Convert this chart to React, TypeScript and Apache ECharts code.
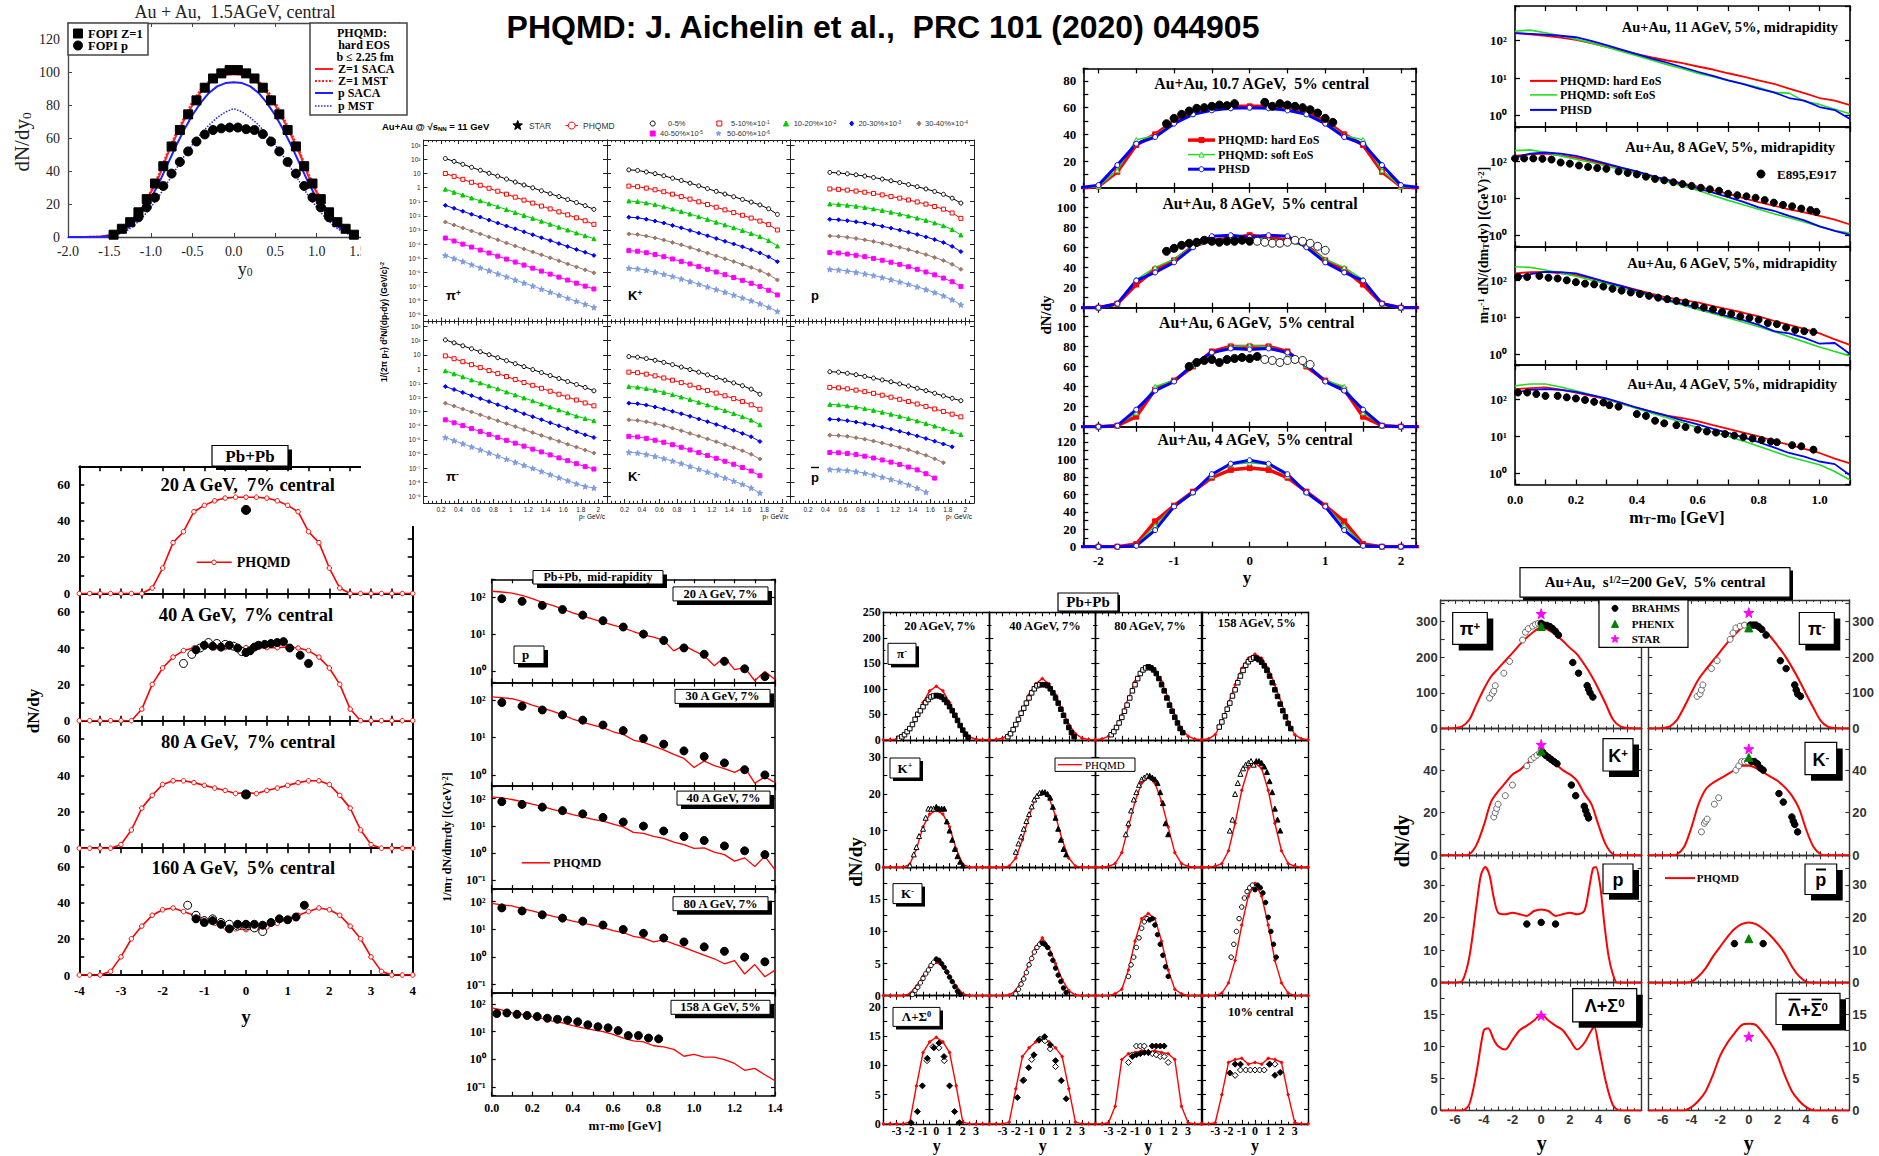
import React, { useEffect, useRef } from 'react';
import * as echarts from 'echarts';

const SERIF = '"Liberation Serif", "Times New Roman", serif';
const SANS = '"Liberation Sans", Arial, sans-serif';
const RED = '#ff0000';
const GREEN = '#22dd22';
const BLUE = '#0000ff';

/* ===== Au+Au 1.5 AGeV central: FOPI vs PHQMD ===== */
const fopiZ1Y0 = [-1.45, -1.35, -1.25, -1.15, -1.05, -0.95, -0.85, -0.75, -0.65, -0.55, -0.45, -0.35, -0.25, -0.15, -0.05, 0.05, 0.15, 0.25, 0.35, 0.45, 0.55, 0.65, 0.75, 0.85, 0.95, 1.05, 1.15, 1.25, 1.35, 1.45];
const fopiZ1 = [1.4, 5, 9, 15, 23, 32.5, 43, 55, 65, 74.5, 83, 90.7, 96.3, 99.4, 101.4, 101.4, 99.4, 96.3, 90.7, 83, 74.5, 65, 55, 43, 32.5, 23, 15, 9, 5, 1.4];
const fopiPY0 = [-1.15, -1.05, -0.95, -0.85, -0.75, -0.65, -0.55, -0.45, -0.35, -0.25, -0.15, -0.05, 0.05, 0.15, 0.25, 0.35, 0.45, 0.55, 0.65, 0.75, 0.85, 0.95, 1.05, 1.15];
const fopiP = [12, 18, 24, 31, 38.5, 45.6, 52, 58, 62.3, 65, 66, 66.5, 66.5, 65.5, 65, 62.5, 58, 52, 45.6, 38.5, 31, 24, 18, 12];
const phqmdY0 = [-2.0, -1.8, -1.6, -1.5, -1.4, -1.3, -1.2, -1.1, -1.0, -0.9, -0.8, -0.7, -0.6, -0.5, -0.4, -0.3, -0.2, -0.1, 0, 0.1, 0.2, 0.3, 0.4, 0.5, 0.6, 0.7, 0.8, 0.9, 1.0, 1.1, 1.2, 1.3, 1.4, 1.5];
const phqmdZ1SACA = [0, 0, 0.3, 1, 2.5, 5.5, 10.5, 18, 27, 37, 50, 61, 71, 80, 88, 93.5, 97, 98.5, 99, 98.5, 97, 93.5, 88, 80, 71, 61, 50, 37, 27, 18, 10.5, 5.5, 2.5, 1];
const phqmdZ1MST = [0, 0, 0.3, 1, 2.5, 5.5, 10.5, 18.5, 28, 38.5, 51.5, 62.5, 72.5, 82, 89.5, 94.5, 97.5, 98.5, 99, 98.5, 97.5, 94.5, 89.5, 82, 72.5, 62.5, 51.5, 38.5, 28, 18.5, 10.5, 5.5, 2.5, 1];
const phqmdPSACA = [0, 0, 0.2, 0.8, 2, 4.5, 9, 15.5, 23.5, 33, 44, 55, 65, 74, 81.5, 87.5, 91.5, 93.5, 94, 93.5, 91.5, 87.5, 81.5, 74, 65, 55, 44, 33, 23.5, 15.5, 9, 4.5, 2, 0.8];
const phqmdPMST = [0, 0, 0.1, 0.5, 1.5, 3.5, 7, 12, 18, 25, 33, 41, 49, 56, 62.5, 68, 72.5, 76, 78, 76, 72.5, 68, 62.5, 56, 49, 41, 33, 25, 18, 12, 7, 3.5, 1.5, 0.5];

/* ===== STAR Au+Au 11 GeV pT spectra (log10 of yield, centralities 0-5% ... 50-60% scaled) ===== */
const starPt = [0.25, 0.35, 0.45, 0.55, 0.65, 0.75, 0.85, 0.95, 1.05, 1.15, 1.25, 1.35, 1.45, 1.55, 1.65, 1.75, 1.85, 1.95];
const starPtProton = [0.45, 0.55, 0.65, 0.75, 0.85, 0.95, 1.05, 1.15, 1.25, 1.35, 1.45, 1.55, 1.65, 1.75, 1.85, 1.95];
const starPiPlusLog10 = [
  [2.05, 1.85, 1.64, 1.43, 1.22, 1.01, 0.81, 0.6, 0.39, 0.18, -0.02, -0.23, -0.44, -0.64, -0.85, -1.06, -1.28, -1.54],
  [0.99, 0.79, 0.58, 0.37, 0.16, -0.05, -0.26, -0.47, -0.68, -0.89, -1.1, -1.31, -1.51, -1.72, -1.93, -2.14, -2.35, -2.6],
  [-0.12, -0.33, -0.53, -0.74, -0.94, -1.15, -1.35, -1.56, -1.77, -1.97, -2.18, -2.38, -2.59, -2.8, -3.0, -3.21, -3.41, -3.62],
  [-1.26, -1.47, -1.68, -1.89, -2.09, -2.3, -2.51, -2.72, -2.92, -3.13, -3.34, -3.55, -3.75, -3.96, -4.17, -4.38, -4.58, -4.8],
  [-2.44, -2.65, -2.86, -3.07, -3.28, -3.49, -3.7, -3.92, -4.13, -4.34, -4.55, -4.76, -4.97, -5.18, -5.4, -5.61, -5.82, -6.03],
  [-3.57, -3.78, -4.0, -4.21, -4.42, -4.63, -4.85, -5.06, -5.27, -5.48, -5.7, -5.91, -6.12, -6.33, -6.54, -6.76, -6.97, -7.17],
  [-4.8, -5.02, -5.23, -5.45, -5.67, -5.88, -6.1, -6.31, -6.53, -6.75, -6.96, -7.18, -7.39, -7.61, -7.82, -8.04, -8.25, -8.47],
];
const starPiMinusLog10 = [
  [2.06, 1.85, 1.64, 1.43, 1.22, 1.01, 0.8, 0.59, 0.38, 0.17, -0.04, -0.25, -0.46, -0.67, -0.88, -1.09, -1.3, -1.54],
  [0.93, 0.73, 0.52, 0.31, 0.1, -0.11, -0.32, -0.53, -0.74, -0.95, -1.15, -1.36, -1.57, -1.78, -1.98, -2.19, -2.4, -2.6],
  [-0.13, -0.34, -0.55, -0.77, -0.98, -1.19, -1.4, -1.62, -1.83, -2.04, -2.25, -2.47, -2.68, -2.89, -3.1, -3.32, -3.5, -3.66],
  [-1.24, -1.45, -1.66, -1.88, -2.09, -2.3, -2.52, -2.73, -2.94, -3.16, -3.37, -3.58, -3.8, -4.01, -4.22, -4.44, -4.65, -4.84],
  [-2.41, -2.62, -2.83, -3.03, -3.24, -3.45, -3.66, -3.86, -4.07, -4.28, -4.49, -4.69, -4.9, -5.11, -5.32, -5.52, -5.73, -5.94],
  [-3.59, -3.8, -4.0, -4.21, -4.42, -4.62, -4.83, -5.04, -5.24, -5.45, -5.66, -5.86, -6.07, -6.28, -6.48, -6.69, -6.9, -7.07],
  [-4.84, -5.06, -5.28, -5.5, -5.71, -5.93, -6.15, -6.37, -6.59, -6.8, -7.02, -7.24, -7.46, -7.68, -7.89, -8.11, -8.3, -8.41],
];
const starKPlusLog10 = [
  [1.25, 1.21, 1.1, 0.98, 0.83, 0.66, 0.5, 0.31, 0.12, -0.08, -0.27, -0.46, -0.65, -0.84, -1.03, -1.23, -1.5, -1.9],
  [0.1, 0.06, -0.04, -0.16, -0.3, -0.47, -0.64, -0.82, -1.01, -1.2, -1.39, -1.58, -1.77, -1.96, -2.16, -2.37, -2.62, -3.0],
  [-0.95, -0.99, -1.09, -1.21, -1.36, -1.52, -1.69, -1.87, -2.06, -2.25, -2.45, -2.64, -2.84, -3.04, -3.25, -3.47, -3.75, -4.13],
  [-2.1, -2.14, -2.24, -2.37, -2.51, -2.68, -2.85, -3.03, -3.22, -3.41, -3.6, -3.8, -3.99, -4.19, -4.4, -4.62, -4.9, -5.24],
  [-3.28, -3.32, -3.43, -3.56, -3.71, -3.88, -4.05, -4.24, -4.43, -4.63, -4.83, -5.03, -5.23, -5.44, -5.65, -5.88, -6.15, -6.53],
  [-4.46, -4.5, -4.61, -4.74, -4.89, -5.05, -5.22, -5.4, -5.59, -5.78, -5.97, -6.16, -6.36, -6.56, -6.77, -6.99, -7.26, -7.59],
  [-5.7, -5.74, -5.85, -5.98, -6.13, -6.29, -6.46, -6.64, -6.83, -7.02, -7.21, -7.4, -7.6, -7.8, -8.0, -8.22, -8.47, -8.76],
];
const starKMinusLog10 = [
  [0.88, 0.84, 0.74, 0.62, 0.47, 0.31, 0.14, -0.04, -0.22, -0.41, -0.6, -0.79, -0.98, -1.18, -1.42, -1.78],
  [-0.22, -0.26, -0.36, -0.48, -0.63, -0.79, -0.96, -1.14, -1.32, -1.51, -1.7, -1.89, -2.09, -2.3, -2.53, -2.84],
  [-1.24, -1.28, -1.38, -1.5, -1.65, -1.81, -1.98, -2.16, -2.35, -2.54, -2.74, -2.94, -3.15, -3.37, -3.61, -3.94],
  [-2.41, -2.45, -2.55, -2.68, -2.83, -2.99, -3.16, -3.34, -3.53, -3.72, -3.92, -4.12, -4.33, -4.55, -4.79, -5.12],
  [-3.59, -3.63, -3.73, -3.86, -4.01, -4.18, -4.36, -4.55, -4.74, -4.94, -5.14, -5.35, -5.56, -5.78, -6.03, -6.36],
  [-4.76, -4.8, -4.9, -5.03, -5.18, -5.35, -5.53, -5.72, -5.91, -6.11, -6.31, -6.52, -6.73, -6.96, -7.21, -7.54],
  [-5.89, -5.93, -6.04, -6.17, -6.33, -6.5, -6.68, -6.88, -7.08, -7.28, -7.49, -7.7, -7.92, -8.15, -8.41, -8.76],
];
const starProtonLog10 = [
  [1.07, 1.03, 0.97, 0.9, 0.81, 0.71, 0.6, 0.48, 0.35, 0.21, 0.06, -0.1, -0.28, -0.48, -0.75, -1.1],
  [-0.1, -0.13, -0.18, -0.25, -0.33, -0.42, -0.52, -0.63, -0.75, -0.88, -1.02, -1.17, -1.34, -1.53, -1.8, -2.18],
  [-1.16, -1.19, -1.25, -1.32, -1.41, -1.51, -1.62, -1.74, -1.87, -2.01, -2.16, -2.32, -2.5, -2.7, -2.97, -3.35],
  [-2.25, -2.28, -2.34, -2.42, -2.51, -2.62, -2.74, -2.87, -3.01, -3.16, -3.32, -3.49, -3.68, -3.89, -4.16, -4.53],
  [-3.42, -3.45, -3.52, -3.6, -3.7, -3.81, -3.94, -4.08, -4.23, -4.39, -4.56, -4.74, -4.94, -5.16, -5.43, -5.78],
  [-4.6, -4.63, -4.7, -4.79, -4.89, -5.01, -5.14, -5.28, -5.43, -5.6, -5.78, -5.97, -6.17, -6.4, -6.66, -7.0],
  [-5.78, -5.82, -5.9, -5.99, -6.1, -6.22, -6.36, -6.51, -6.67, -6.84, -7.02, -7.21, -7.42, -7.65, -7.93, -8.29],
];
const starAntiProtonLog10 = [
  [-0.19, -0.22, -0.3, -0.4, -0.52, -0.64, -0.77, -0.9, -1.05, -1.2, -1.36, -1.53, -1.71, -1.9, -2.07, -2.24],
  [-1.3, -1.33, -1.4, -1.49, -1.6, -1.72, -1.85, -1.99, -2.14, -2.3, -2.47, -2.64, -2.82, -3.0, -3.19, -3.38],
  [-2.5, -2.53, -2.6, -2.69, -2.8, -2.92, -3.05, -3.19, -3.34, -3.5, -3.67, -3.85, -4.03, -4.22, -4.42, -4.63],
  [-3.55, -3.58, -3.65, -3.75, -3.86, -3.98, -4.11, -4.25, -4.4, -4.56, -4.73, -4.91, -5.1, -5.3, -5.5],
  [-4.68, -4.7, -4.76, -4.85, -4.96, -5.09, -5.23, -5.38, -5.54, -5.71, -5.9, -6.1, -6.35, -6.62],
  [-5.9, -5.92, -5.97, -6.05, -6.16, -6.29, -6.43, -6.58, -6.75, -6.93, -7.13, -7.4, -7.71],
  [-7.1, -7.12, -7.17, -7.25, -7.36, -7.49, -7.64, -7.8, -7.98, -8.18, -8.42, -8.7],
];
const starLegend = ['0-5%', '5-10%×10{sup|-1}', '10-20%×10{sup|-2}', '20-30%×10{sup|-3}', '30-40%×10{sup|-4}', '40-50%×10{sup|-5}', '50-60%×10{sup|-6}'];

/* ===== Au+Au AGS dN/dy (10.7, 8, 6, 4 AGeV) ===== */
const agsY = [-2.25, -2, -1.75, -1.5, -1.25, -1, -0.75, -0.5, -0.25, 0, 0.25, 0.5, 0.75, 1, 1.25, 1.5, 1.75, 2, 2.25];
const agsHard = [
  [0, 1, 12, 32, 40, 50, 57, 60, 61, 61, 61, 60, 57, 50, 40, 32, 12, 1, 0],
  [0, 0, 4, 23, 38, 47, 61, 67, 69, 72, 70, 67, 62, 47, 38, 23, 4, 0, 0],
  [0, 0, 1, 10, 37, 46, 60, 75, 80, 80, 80, 75, 60, 46, 37, 10, 1, 0, 0],
  [0, 0, 0, 3, 29, 47, 63, 79, 88, 90, 88, 79, 63, 47, 29, 3, 0, 0, 0],
];
const agsSoft = [
  [0, 1, 13, 36, 39, 49, 55, 59, 60, 60, 60, 59, 55, 49, 39, 36, 13, 1, 0],
  [0, 0, 4, 28, 40, 48, 61, 66, 68, 69, 68, 66, 61, 48, 40, 28, 4, 0, 0],
  [0, 0, 1, 14, 40, 46, 61, 72, 80, 81, 80, 72, 61, 46, 40, 14, 1, 0, 0],
  [0, 0, 0, 2, 24, 47, 62, 81, 94, 96, 94, 81, 62, 47, 24, 2, 0, 0, 0],
];
const agsPhsd = [
  [0, 2, 17, 33, 38, 48, 55, 58, 59.5, 60, 59.5, 58, 55, 48, 38, 33, 17, 2, 0],
  [0, 0, 4, 27, 35, 45, 60, 71, 72, 70, 72, 71, 60, 45, 35, 27, 4, 0, 0],
  [0, 0, 1, 17, 36, 45, 62, 74, 78, 77, 78, 74, 62, 45, 36, 17, 1, 0, 0],
  [0, 0, 0, 1, 19, 46, 62, 83, 95, 99, 95, 83, 62, 46, 19, 1, 0, 0, 0],
];
const ags107DataY = [-1.1, -1, -0.9, -0.8, -0.7, -0.6, -0.5, -0.4, -0.3, -0.2, 0.2, 0.3, 0.4, 0.5, 0.6, 0.7, 0.8, 0.9, 1.0, 1.1];
const ags107Data = [48, 52, 55, 57.5, 59.5, 60, 61, 62, 61.5, 63, 64, 61, 63, 62, 61, 60, 58.5, 56, 52, 49];
const ags8FilledY = [-1.1, -1.0, -0.9, -0.8, -0.7, -0.6, -0.5, -0.4, -0.3, -0.2, -0.1, 0.0];
const ags8Filled = [56, 59, 62, 64, 65, 67, 66, 65, 66, 66, 67, 66];
const ags8OpenY = [0.1, 0.2, 0.3, 0.4, 0.5, 0.6, 0.7, 0.8, 0.9, 1.0];
const ags8Open = [66, 65, 64, 64, 65, 67, 66, 64, 61, 57];
const ags6FilledY = [-0.8, -0.7, -0.6, -0.5, -0.4, -0.3, -0.2, -0.1, 0, 0.1];
const ags6Filled = [60, 64, 66, 67, 64, 67, 68, 69, 68, 70];
const ags6OpenY = [0.2, 0.3, 0.4, 0.5, 0.6, 0.7, 0.8];
const ags6Open = [67, 66, 64, 66, 67, 66, 62];

/* ===== Au+Au AGS mT spectra (log10) ===== */
const mtX = [0, 0.05, 0.1, 0.15, 0.2, 0.25, 0.3, 0.35, 0.4, 0.45, 0.5, 0.55, 0.6, 0.65, 0.7, 0.75, 0.8, 0.85, 0.9, 0.95, 1.0, 1.05, 1.1];
const mtHardLog10 = [
  [2.2, 2.17, 2.13, 2.08, 2.02, 1.93, 1.83, 1.74, 1.64, 1.55, 1.47, 1.4, 1.31, 1.23, 1.13, 1.04, 0.94, 0.85, 0.72, 0.6, 0.47, 0.4, 0.28],
  [2.14, 2.18, 2.2, 2.15, 2.09, 2.0, 1.9, 1.79, 1.68, 1.58, 1.49, 1.4, 1.31, 1.21, 1.12, 1.0, 0.89, 0.8, 0.7, 0.62, 0.52, 0.42, 0.29],
  [2.19, 2.22, 2.23, 2.19, 2.14, 2.05, 1.95, 1.85, 1.74, 1.63, 1.53, 1.46, 1.4, 1.3, 1.21, 1.12, 1.02, 0.9, 0.79, 0.68, 0.56, 0.4, 0.25],
  [2.27, 2.3, 2.32, 2.26, 2.18, 2.09, 2.0, 1.88, 1.77, 1.66, 1.56, 1.49, 1.41, 1.3, 1.2, 1.1, 1.0, 0.88, 0.77, 0.66, 0.55, 0.4, 0.27],
];
const mtSoftLog10 = [
  [2.25, 2.28, 2.21, 2.13, 2.04, 1.94, 1.83, 1.71, 1.6, 1.48, 1.36, 1.25, 1.13, 1.04, 0.94, 0.85, 0.75, 0.62, 0.6, 0.38, 0.3, 0.17, 0.05],
  [2.28, 2.3, 2.23, 2.14, 2.05, 1.96, 1.86, 1.77, 1.68, 1.56, 1.44, 1.33, 1.21, 1.07, 0.94, 0.82, 0.7, 0.58, 0.47, 0.36, 0.24, 0.12, 0.06],
  [2.37, 2.35, 2.28, 2.2, 2.11, 2.01, 1.91, 1.79, 1.67, 1.56, 1.44, 1.33, 1.21, 1.1, 0.98, 0.86, 0.74, 0.61, 0.47, 0.33, 0.19, 0.07, -0.05],
  [2.36, 2.41, 2.41, 2.33, 2.23, 2.12, 2.0, 1.88, 1.75, 1.62, 1.5, 1.37, 1.23, 1.11, 1.0, 0.87, 0.73, 0.59, 0.45, 0.34, 0.23, 0.05, -0.18],
];
const mtPhsdLog10 = [
  [2.2, 2.18, 2.16, 2.13, 2.09, 1.99, 1.88, 1.76, 1.64, 1.52, 1.41, 1.29, 1.17, 1.06, 0.94, 0.84, 0.72, 0.62, 0.47, 0.4, 0.23, 0.15, -0.09],
  [2.09, 2.2, 2.23, 2.2, 2.14, 2.04, 1.93, 1.82, 1.72, 1.6, 1.49, 1.38, 1.26, 1.15, 1.03, 0.9, 0.75, 0.66, 0.52, 0.4, 0.24, 0.12, 0.01],
  [2.07, 2.17, 2.23, 2.22, 2.19, 2.07, 1.95, 1.84, 1.72, 1.59, 1.46, 1.36, 1.26, 1.14, 1.02, 0.92, 0.79, 0.62, 0.56, 0.44, 0.28, 0.3, 0.0],
  [2.18, 2.25, 2.27, 2.25, 2.2, 2.11, 2.02, 1.9, 1.77, 1.66, 1.55, 1.43, 1.32, 1.2, 1.09, 0.97, 0.84, 0.7, 0.55, 0.45, 0.32, 0.25, -0.05],
];
const e895X8 = [0, 0.03, 0.06, 0.09, 0.12, 0.15, 0.18, 0.21, 0.24, 0.27, 0.3, 0.34, 0.37, 0.4, 0.43, 0.46, 0.49, 0.52, 0.55, 0.58, 0.61, 0.64, 0.67, 0.7, 0.73, 0.76, 0.79, 0.82, 0.85, 0.88, 0.91, 0.94, 0.97, 0.99];
const e895Log10_8 = [2.07, 2.07, 2.07, 2.06, 2.04, 1.96, 1.93, 1.88, 1.84, 1.81, 1.79, 1.72, 1.68, 1.64, 1.58, 1.52, 1.48, 1.43, 1.38, 1.33, 1.28, 1.24, 1.2, 1.12, 1.08, 1.05, 1.01, 0.95, 0.88, 0.82, 0.78, 0.72, 0.68, 0.63];
const e895X6 = [0.01, 0.04, 0.08, 0.11, 0.14, 0.17, 0.2, 0.23, 0.26, 0.29, 0.32, 0.35, 0.38, 0.41, 0.44, 0.47, 0.5, 0.53, 0.56, 0.59, 0.62, 0.65, 0.68, 0.71, 0.74, 0.77, 0.8, 0.83, 0.86, 0.89, 0.92, 0.95, 0.98];
const e895Log10_6 = [2.09, 2.09, 2.12, 2.07, 2.05, 2.0, 1.95, 1.91, 1.89, 1.83, 1.77, 1.72, 1.67, 1.63, 1.58, 1.53, 1.49, 1.44, 1.4, 1.32, 1.26, 1.21, 1.14, 1.09, 1.02, 0.98, 0.93, 0.84, 0.81, 0.72, 0.65, 0.62, 0.6];
const e895X4 = [0.01, 0.04, 0.07, 0.1, 0.14, 0.17, 0.2, 0.23, 0.26, 0.29, 0.31, 0.34, 0.4, 0.43, 0.46, 0.49, 0.53, 0.56, 0.6, 0.63, 0.66, 0.69, 0.72, 0.75, 0.78, 0.81, 0.84, 0.86, 0.91, 0.94, 0.98];
const e895Log10_4 = [2.18, 2.18, 2.14, 2.09, 2.09, 2.05, 2.02, 1.98, 1.93, 1.91, 1.84, 1.8, 1.6, 1.55, 1.42, 1.35, 1.3, 1.25, 1.18, 1.13, 1.1, 1.06, 1.02, 0.98, 0.94, 0.9, 0.86, 0.84, 0.76, 0.73, 0.64];

/* ===== Pb+Pb SPS dN/dy (20, 40, 80, 160 AGeV) ===== */
const spsY = [-4, -3.75, -3.5, -3.25, -3, -2.75, -2.5, -2.25, -2, -1.75, -1.5, -1.25, -1, -0.75, -0.5, -0.25, 0, 0.25, 0.5, 0.75, 1, 1.25, 1.5, 1.75, 2, 2.25, 2.5, 2.75, 3, 3.25, 3.5, 3.75, 4];
const spsPhqmd = [
  [0, 0, 0, 0, 0, 0, 0, 3, 14, 28, 34, 45, 48.5, 51, 52.5, 53, 53, 53, 52.5, 51, 48.5, 45, 34, 28, 14, 3, 0, 0, 0, 0, 0, 0, 0],
  [0, 0, 0, 0, 0, 0, 6.4, 20, 29, 35, 38.6, 40, 40.6, 40.2, 40.2, 40.2, 40.2, 40.2, 40.2, 40.2, 40.6, 40, 38.6, 35, 29, 20, 6.4, 0, 0, 0, 0, 0, 0],
  [0, 0, 0, 0, 2, 10, 22, 29, 35, 37, 37, 36, 34.5, 33, 31.7, 30, 30.5, 30, 31.7, 33, 34.5, 36, 37, 37, 35, 29, 22, 10, 2, 0, 0, 0, 0],
  [0, 0, 0, 2, 10, 20, 27, 33, 36, 37, 35, 33, 31, 28.5, 26.5, 25.5, 25, 25.5, 26.5, 28.5, 31, 33, 35, 37, 36, 33, 27, 20, 10, 2, 0, 0, 0],
];
const na49P20Y = [0];
const na49P20 = [46];
const na49P40OpenY = [-1.5, -1.3, -1.1, -0.9, -0.7, -0.5, -0.3, -0.1];
const na49P40Open = [31.5, 36.5, 40, 43, 42.5, 42, 41, 38];
const na49P40FilledY = [-1.2, -1.0, -0.8, -0.6, -0.4, -0.2, 0, 0.1, 0.2, 0.3, 0.45, 0.6, 0.75, 0.9, 1.05, 1.3, 1.5];
const na49P40Filled = [39, 41.5, 41, 40.5, 41.5, 40, 37.5, 38.5, 40.5, 41.5, 42, 42.5, 43, 43.5, 40, 36, 31.5];
const na49P80Y = [0];
const na49P80 = [29.5];
const na49P160OpenY = [-1.4, -1.2, -1.0, -0.8, -0.6, -0.4, -0.2, 0, 0.2, 0.4];
const na49P160Open = [38.5, 33, 30, 31, 29, 28, 27, 27, 26, 24];
const na49P160FilledY = [-1.2, -1.0, -0.8, -0.6, -0.4, -0.2, 0, 0.2, 0.4, 0.6, 0.8, 1.0, 1.2, 1.4];
const na49P160Filled = [31, 29, 30, 28, 25.5, 28, 28, 28, 27.5, 29, 31, 30.5, 32, 38.5];

/* ===== Pb+Pb mid-rapidity proton mT spectra (log10) ===== */
const spsMtX = [0, 0.05, 0.1, 0.15, 0.2, 0.25, 0.3, 0.35, 0.4, 0.45, 0.5, 0.55, 0.6, 0.65, 0.7, 0.75, 0.8, 0.85, 0.9, 0.95, 1.0, 1.05, 1.1, 1.15, 1.2, 1.25, 1.3, 1.35, 1.4];
const spsMtPhqmdLog10 = [
  [2.15, 2.13, 2.1, 2.04, 1.95, 1.85, 1.77, 1.68, 1.57, 1.49, 1.4, 1.32, 1.24, 1.17, 1.07, 0.98, 0.92, 0.83, 0.55, 0.7, 0.55, 0.42, 0.15, 0.38, 0.05, 0.1, -0.25, 0.0, -0.22],
  [2.08, 2.06, 2.03, 1.96, 1.86, 1.78, 1.7, 1.6, 1.49, 1.41, 1.33, 1.26, 1.15, 1.08, 0.93, 0.87, 0.77, 0.67, 0.55, 0.44, 0.2, 0.37, 0.25, 0.17, 0.07, 0.2, -0.22, -0.05, -0.2],
  [2.07, 2.03, 1.97, 1.89, 1.8, 1.72, 1.61, 1.51, 1.41, 1.33, 1.24, 1.17, 1.06, 0.96, 0.76, 0.72, 0.61, 0.54, 0.4, 0.31, 0.17, 0.19, 0.03, -0.06, -0.3, -0.18, -0.5, -0.12, -0.62],
  [1.93, 1.88, 1.84, 1.74, 1.66, 1.56, 1.47, 1.39, 1.29, 1.22, 1.15, 1.06, 0.95, 0.88, 0.74, 0.68, 0.54, 0.61, 0.47, 0.34, 0.2, 0.06, -0.07, -0.25, -0.14, -0.62, -0.28, -0.72, -0.48],
  [1.86, 1.79, 1.68, 1.63, 1.55, 1.48, 1.38, 1.32, 1.22, 1.14, 1.07, 1.0, 0.9, 0.77, 0.67, 0.63, 0.49, 0.45, 0.36, 0.11, 0.18, 0.08, 0.08, -0.01, -0.15, -0.4, -0.33, -0.56, -0.78],
];
const na49MtX = [0.05, 0.15, 0.25, 0.35, 0.45, 0.55, 0.65, 0.75, 0.85, 0.95, 1.05, 1.15, 1.25, 1.35];
const na49MtX158 = [0.025, 0.075, 0.125, 0.175, 0.225, 0.275, 0.325, 0.375, 0.425, 0.475, 0.525, 0.575, 0.625, 0.675, 0.725, 0.775, 0.825];
const na49MtLog10 = [
  [1.95, 1.88, 1.77, 1.66, 1.51, 1.36, 1.19, 1.0, 0.83, 0.63, 0.46, 0.27, 0.07, -0.14],
  [1.93, 1.83, 1.73, 1.6, 1.46, 1.33, 1.18, 0.97, 0.82, 0.64, 0.49, 0.32, 0.14, 0.0],
  [1.89, 1.79, 1.69, 1.56, 1.44, 1.31, 1.14, 0.99, 0.81, 0.61, 0.46, 0.26, 0.08, -0.06],
  [1.77, 1.66, 1.52, 1.4, 1.29, 1.15, 0.99, 0.85, 0.68, 0.54, 0.36, 0.2, -0.01, -0.18],
  [1.66, 1.68, 1.63, 1.59, 1.55, 1.49, 1.45, 1.42, 1.36, 1.25, 1.18, 1.14, 1.04, 0.86, 0.86, 0.77, 0.74],
];

/* ===== Pb+Pb grid: pi-, K+, K-, Lambda at 20/40/80/158 AGeV ===== */
const gridY = [-4, -3.5, -3, -2.5, -2, -1.5, -1, -0.5, 0, 0.5, 1, 1.5, 2, 2.5, 3, 3.5, 4];
const gridPiMinus = [
  [0, 0, 1, 6, 20, 45, 73, 96, 105, 96, 73, 45, 20, 6, 1, 0, 0],
  [0, 0.5, 3, 12, 30, 58, 88, 110, 120, 110, 88, 58, 30, 12, 3, 0.5, 0],
  [0, 1.5, 7, 22, 48, 82, 114, 137, 145, 137, 114, 82, 48, 22, 7, 1.5, 0],
  [0, 2, 10, 35, 72, 108, 140, 160, 168, 160, 140, 108, 72, 35, 10, 2, 0],
];
const gridKPlus = [
  [0, 0, 0, 0, 0.8, 5, 11, 14.5, 15.5, 14.5, 11, 5, 0.8, 0, 0, 0, 0],
  [0, 0, 0, 0.3, 2.5, 7.5, 14, 19, 20.5, 19, 14, 7.5, 2.5, 0.3, 0, 0, 0],
  [0, 0, 0.2, 1, 4, 11, 18, 23, 24.5, 23, 18, 11, 4, 1, 0.2, 0, 0],
  [0, 0, 0.3, 1, 4.5, 12, 21, 27, 28.5, 27, 21, 12, 4.5, 1, 0.3, 0, 0],
];
const gridKMinus = [
  [0, 0, 0, 0, 0.3, 1.5, 3, 4.5, 5.2, 4.5, 3, 1.5, 0.3, 0, 0, 0, 0],
  [0, 0, 0, 0.1, 0.8, 2.5, 5, 7.5, 9, 7.5, 5, 2.5, 0.8, 0.1, 0, 0, 0],
  [0, 0, 0, 0.3, 1, 4, 8.5, 12, 12.8, 12, 8.5, 4, 1, 0.3, 0, 0, 0],
  [0, 0, 0, 0.4, 2, 5.5, 11, 15.5, 17.5, 15.5, 11, 5.5, 2, 0.4, 0, 0, 0],
];
const gridLambda = [
  [0, 0, 0, 0, 0.3, 6.5, 12.2, 14, 14.8, 14, 12.2, 6.5, 0.3, 0, 0, 0, 0],
  [0, 0, 0, 0.3, 6, 11.5, 13, 14, 14.5, 14, 13, 11.5, 6, 0.3, 0, 0, 0],
  [0, 0, 0.2, 3, 11, 12, 12.2, 12.5, 12.3, 12.5, 12.2, 12, 11, 3, 0.2, 0, 0],
  [0, 0, 0.2, 5, 10.5, 11, 11.2, 10.2, 10.5, 10.2, 11.2, 11, 10.5, 5, 0.2, 0, 0],
];
const na49PiMinusY = [
  [-2.8, -2.6, -2.4, -2.2, -2.0, -1.8, -1.6, -1.4, -1.2, -1.0, -0.8, -0.6, -0.4, -0.2, 0, 0.2, 0.4, 0.6, 0.8, 1.0, 1.2, 1.4, 1.6, 1.8, 2.0, 2.2, 2.4],
  [-2.6, -2.4, -2.2, -2.0, -1.8, -1.6, -1.4, -1.2, -1.0, -0.8, -0.6, -0.4, -0.2, 0, 0.2, 0.4, 0.6, 0.8, 1.0, 1.2, 1.4, 1.6, 1.8, 2.0, 2.2, 2.4],
  [-2.8, -2.6, -2.4, -2.2, -2.0, -1.8, -1.6, -1.4, -1.2, -1.0, -0.8, -0.6, -0.4, -0.2, 0, 0.2, 0.4, 0.6, 0.8, 1.0, 1.2, 1.4, 1.6, 1.8, 2.0, 2.2, 2.4, 2.6],
  [-2.7, -2.5, -2.3, -2.1, -1.9, -1.7, -1.5, -1.3, -1.1, -0.9, -0.7, -0.5, -0.3, -0.1, 0.1, 0.3, 0.5, 0.7, 0.9, 1.1, 1.3, 1.5, 1.7, 1.9, 2.1, 2.3, 2.5, 2.7],
];
const na49PiMinus = [
  [3, 6, 10, 16, 22, 30, 40, 50, 57, 65, 73, 79, 84, 86, 87, 86, 84, 79, 73, 65, 57, 48, 38, 28, 19, 11, 5],
  [6, 12, 20, 30, 40, 52, 62, 72, 82, 92, 100, 106, 108, 108, 108, 106, 100, 92, 82, 72, 60, 48, 36, 24, 14, 6],
  [10, 16, 24, 33, 44, 56, 68, 82, 96, 108, 120, 130, 137, 141, 143, 141, 137, 130, 120, 108, 96, 82, 68, 56, 44, 33, 22, 14],
  [25, 35, 47, 60, 72, 86, 98, 112, 125, 136, 146, 153, 158, 161, 160, 157, 152, 145, 136, 125, 112, 98, 85, 70, 57, 45, 32, 22],
];
const na49KPlusY = [
  [-2.0, -1.7, -1.5, -1.3, -1.0, -0.8, -0.6, -0.4, -0.2, 0, 0.2, 0.4, 0.6, 0.8, 1.0, 1.2, 1.4, 1.6, 1.8, 2.0],
  [-2.0, -1.8, -1.6, -1.4, -1.2, -1.0, -0.8, -0.6, -0.4, -0.2, 0, 0.2, 0.4, 0.6, 0.8, 1.0, 1.2, 1.4, 1.6, 1.8],
  [-1.7, -1.5, -1.3, -1.1, -0.9, -0.7, -0.5, -0.3, -0.1, 0.1, 0.3, 0.5, 0.7, 0.9, 1.1, 1.3, 1.5],
  [-1.9, -1.7, -1.5, -1.3, -1.1, -0.9, -0.7, -0.5, -0.3, -0.1, 0.1, 0.3, 0.5, 0.7, 0.9, 1.1, 1.3, 1.5, 1.7, 1.9],
];
const na49KPlus = [
  [0.5, 3.5, 5.5, 8.5, 10.5, 13.5, 16, 16, 16, 16.5, 16, 16, 16, 12.5, 10, 7.5, 5, 3, 1.5, 0.5],
  [4.2, 6.5, 8.4, 10.5, 12.6, 14.5, 16.6, 18.5, 19.5, 20.3, 20.5, 20.5, 20, 19, 16.5, 13.5, 10.5, 7.5, 5, 3.5],
  [9, 12, 15.5, 18.5, 20.5, 22.5, 24, 24.5, 25, 25, 24.5, 24, 23, 20.5, 17.5, 12, 9],
  [10, 13, 20, 23, 25.5, 27, 28, 28.5, 29, 28, 29, 29, 28.5, 27.5, 26, 23.5, 20.5, 16, 13, 10],
];
const na49KMinusY = [
  [-1.8, -1.6, -1.4, -1.2, -1.0, -0.8, -0.6, -0.4, -0.2, 0, 0.2, 0.4, 0.6, 0.8, 1.0, 1.2, 1.4, 1.6, 1.8],
  [-2.0, -1.8, -1.6, -1.4, -1.2, -1.0, -0.8, -0.6, -0.4, -0.2, 0, 0.2, 0.4, 0.6, 0.8, 1.0, 1.2, 1.4, 1.6, 1.8],
  [-1.5, -1.3, -1.1, -0.9, -0.7, -0.5, -0.3, -0.1, 0.1, 0.3, 0.5, 0.7, 0.9, 1.1, 1.3, 1.5],
  [-1.8, -1.6, -1.4, -1.2, -1.0, -0.8, -0.6, -0.4, -0.2, 0, 0.2, 0.4, 0.6, 0.8, 1.0, 1.2, 1.4, 1.6],
];
const na49KMinus = [
  [0.2, 0.8, 1.3, 2, 2.7, 3.4, 4, 4.7, 5.2, 5.7, 5.5, 5, 4.4, 3.7, 2.9, 2.2, 1.4, 0.7, 0.2],
  [0.3, 1, 1.8, 2.6, 3.6, 4.8, 5.8, 6.8, 7.5, 8, 8.2, 8, 7.5, 6.5, 5.5, 4.3, 3.2, 2.2, 1.2, 0.5],
  [3, 4.8, 6, 7.5, 9, 10.5, 11.5, 12, 11.8, 12, 11, 9.5, 8, 6.3, 4.5, 3],
  [6, 8, 10, 12, 13.8, 15.2, 16.2, 16.8, 17.2, 16.5, 17.2, 16.8, 16, 14.5, 12.2, 10, 8, 6],
];
const na49LambdaFilledY = [
  [-1.9, -1.43, -1.05, -0.68, -0.18, 0.2, 0.58, 1.0, 1.38, 1.75],
  [-1.88, -1.45, -1.03, -0.63, -0.25, 0.18, 0.6, 1.0, 1.43, 1.8],
  [-1.2, -0.9, -0.6, -0.3, 0, 0.3, 0.6, 0.9, 1.2],
  [-1.9, -1.5, -1.1, 1.1, 1.5, 1.9],
];
const na49LambdaFilled = [
  [0.2, 2.1, 6.5, 11.2, 13, 13.8, 11.5, 6.5, 2.1, 0.2],
  [4.5, 7.4, 9.6, 11.8, 14.3, 14.9, 13.5, 10.8, 7.4, 4.3],
  [11.5, 11.8, 12, 12.2, 12.2, 13.3, 13.3, 13.3, 13.3],
  [8.7, 10.2, 10.2, 10.2, 8.3, 8.8],
];
const na49LambdaOpenY = [
  [-0.7, -0.25, 0.2, 0.6],
  [-1.4, -0.8, -0.2, 0.2, 0.6, 1.0],
  [-1.5, -1.2, -0.9, -0.6, -0.3, 0, 0.3, 0.6, 0.9, 1.2, 1.5],
  [-1.5, -1.1, -0.7, -0.35, 0, 0.35, 0.7, 1.1, 1.5],
];
const na49LambdaOpen = [
  [10.8, 13.2, 13, 10.8],
  [7.5, 11, 14.5, 14.2, 12.8, 9.8],
  [10.5, 11.8, 13.3, 13.3, 13.3, 12.2, 12, 11.8, 11.5, 11.5, 10.5],
  [8.3, 9.2, 9.2, 9.2, 9.2, 9.2, 9.2, 10.2, 10.2],
];

/* ===== Au+Au 200 GeV ===== */
const rhicY = [-7, -6.5, -6, -5.5, -5, -4.5, -4, -3.5, -3, -2.5, -2, -1.5, -1, -0.5, 0, 0.5, 1, 1.5, 2, 2.5, 3, 3.5, 4, 4.5, 5, 5.5, 6, 6.5, 7];
const rhicPiPlus = [0, 0, 1, 6, 25, 68, 110, 145, 168, 190, 212, 235, 255, 272, 283, 276, 263, 246, 226, 208, 180, 148, 110, 68, 25, 6, 1, 0, 0];
const rhicPiMinus = [0, 0, 1, 6, 24, 60, 100, 138, 165, 190, 215, 240, 262, 282, 292, 290, 278, 258, 232, 205, 172, 136, 96, 58, 22, 5, 1, 0, 0];
const rhicKPlus = [0, 0, 0, 0, 0.5, 5, 14, 25, 30, 34, 38, 40, 43, 46, 49, 46, 43, 40, 38, 35, 29, 24, 14, 5, 0.5, 0, 0, 0, 0];
const rhicKMinus = [0, 0, 0, 0, 0.5, 4, 13, 24, 31, 34, 36, 38, 40, 42, 42, 41, 39, 37, 35, 32, 28, 22, 12, 4, 0.5, 0, 0, 0, 0];
const rhicProtonY = [-7, -6, -5.5, -5, -4.5, -4.2, -3.9, -3.6, -3.3, -3, -2.5, -2, -1.5, -1, -0.5, 0, 0.5, 1, 1.5, 2, 2.5, 3, 3.3, 3.6, 3.8, 4.1, 4.4, 4.7, 5, 5.3, 6, 7];
const rhicProton = [0, 0, 0.5, 8, 24, 33, 35.5, 33, 26, 21.5, 21, 21.5, 21, 20.5, 22, 22.5, 22, 20.5, 21, 21.5, 21, 22, 28, 35, 35.5, 30, 18, 8, 2.5, 0, 0, 0];
const rhicAntiProton = [0, 0, 0, 0, 0, 0, 0.3, 2, 4.5, 8, 11, 14, 16.5, 18, 18.5, 18, 16.5, 14.5, 12, 9, 5, 2, 0.3, 0, 0, 0, 0, 0, 0];
const rhicLambdaY = [-7, -5.5, -5, -4.5, -4, -3.7, -3.3, -3, -2.5, -2, -1.5, -1, -0.5, 0, 0.5, 1, 1.5, 2, 2.5, 3, 3.5, 3.7, 4, 4.5, 5, 5.5, 7];
const rhicLambda = [0, 0, 1, 6, 12.5, 12.8, 11, 10, 9.5, 11, 12.5, 13.2, 14, 15, 14, 13.2, 12.5, 11, 9.5, 10.5, 12.5, 13, 10, 4.5, 0.8, 0, 0];
const rhicAntiLambda = [0, 0, 0, 0, 0, 0, 0.5, 1.5, 3, 5.5, 8.5, 10.5, 12, 13.3, 13.5, 13.3, 12, 10.5, 8.5, 5.5, 3, 1.5, 0.5, 0, 0, 0, 0, 0, 0];
const brahmsPiPlusY = [0.0, 0.2, 0.4, 0.6, 0.8, 1.0, 1.2, 2.2, 2.6, 3.2, 3.3, 3.4, 3.6];
const brahmsPiPlus = [295, 290, 289, 286, 280, 272, 262, 185, 155, 120, 110, 100, 88];
const brahmsPiPlusReflY = [-3.6, -3.4, -3.3, -3.2, -2.6, -2.2, -1.3, -1.1, -0.9, -0.6, -0.4, -0.2];
const brahmsPiPlusRefl = [85, 98, 105, 120, 155, 188, 248, 270, 280, 287, 292, 295];
const brahmsPiMinusY = [0.1, 0.3, 0.5, 0.7, 0.9, 1.2, 2.2, 2.6, 3.2, 3.3, 3.4, 3.6];
const brahmsPiMinus = [290, 290, 290, 285, 278, 262, 190, 168, 122, 108, 97, 90];
const brahmsPiMinusReflY = [-3.6, -3.4, -3.3, -3.2, -2.6, -2.2, -1.3, -1.1, -0.9, -0.6, -0.3];
const brahmsPiMinusRefl = [90, 97, 108, 122, 168, 190, 250, 268, 282, 287, 290];
const brahmsKPlusY = [0.1, 0.3, 0.5, 0.7, 0.9, 1.1, 2.1, 2.4, 3.0, 3.1, 3.2, 3.3];
const brahmsKPlus = [48.5, 47, 46, 45, 44, 43, 33, 28, 23, 21, 19, 17.5];
const brahmsKPlusReflY = [-3.3, -3.2, -3.1, -3.0, -2.5, -2.0, -1.0, -0.7, -0.5, -0.3, -0.1];
const brahmsKPlusRefl = [18, 20, 22, 24, 28, 33, 42, 45, 46, 47, 48];
const brahmsKMinusY = [0.2, 0.4, 0.6, 0.8, 1.0, 2.1, 2.4, 3.0, 3.1, 3.2, 3.4];
const brahmsKMinus = [44, 44, 43, 41, 40, 29, 25, 18, 16, 14.5, 11];
const brahmsKMinusReflY = [-3.3, -3.1, -3.0, -2.9, -2.4, -2.1, -0.9, -0.7, -0.5, -0.3, -0.1];
const brahmsKMinusRefl = [11, 15, 16, 17, 24, 27, 40, 42, 44, 44, 44];
const brahmsProtonY = [-1, 0, 1];
const brahmsProton = [18, 18.5, 18];
const brahmsAntiProtonY = [-1, 1];
const brahmsAntiProton = [12, 12];
const phenixY = [0];
const phenixPiPlus = [286];
const phenixPiMinus = [282];
const phenixKPlus = [49];
const phenixKMinus = [46];
const phenixAntiProton = [13.5];
const starRhicPiPlus = [322];
const starRhicPiMinus = [325];
const starRhicKPlus = [52];
const starRhicKMinus = [50];
const starRhicLambda = [14.8];
const starRhicAntiLambda = [11.5];

const STAR_PATH = 'path://M50,0L61,35L98,35L68,57L79,91L50,70L21,91L32,57L2,35L39,35Z';

const SUP: any = { '-': '⁻', '+': '⁺', '0': '⁰', '1': '¹', '2': '²', '3': '³', '4': '⁴', '5': '⁵', '6': '⁶', '7': '⁷', '8': '⁸', '9': '⁹' };
const sup = (s: string) => s.split('').map((c) => SUP[c] || c).join('');
const fint = (v: number) => String(Math.round(v));
const fx1 = (v: number) => (Math.round(v * 10) / 10).toFixed(1);
const fRoot = (v: number) => String(Math.round(v * 10) / 10);
const fLogRoot = (v: number) => {
  const k = Math.round(v);
  if (k === 0) return '1';
  if (k === 1) return '10';
  return '10' + sup(String(k));
};
const fLogOrigin = (v: number) => '10' + sup(String(Math.round(v)));

function buildOption() {
  const grids: any[] = [];
  const xAxes: any[] = [];
  const yAxes: any[] = [];
  const series: any[] = [];
  const G: any[] = [];

  const near = (v: number, s: number) => Math.abs(v / s - Math.round(v / s)) < 1e-6;

  function mkAxis(gi: number, a: any, pos: string, showLab: boolean, p: any, margin: number) {
    const col = p.color || '#000';
    const o: any = {
      type: 'value', gridIndex: gi, position: pos, min: a.min, max: a.max, z: p.z || 2,
      axisLine: { show: true, onZero: false, lineStyle: { color: col, width: p.lw } },
      axisTick: { show: true, inside: true, length: p.tick, lineStyle: { color: col, width: Math.max(1, p.lw * 0.8) } },
      minorTick: { show: !!a.minor, splitNumber: a.minor || 5, length: p.tick * 0.55, lineStyle: { color: col, width: 1 } },
      splitLine: { show: false },
      minorSplitLine: { show: false },
      axisPointer: { show: false },
      axisLabel: {
        show: showLab, showMinLabel: true, showMaxLabel: true, hideOverlap: false,
        margin, fontSize: p.fs, fontFamily: p.ff, fontWeight: p.fw || 'normal', color: p.lc || '#000',
        formatter: (v: number) => {
          if (!near(v, a.step)) return '';
          if (a.lmin != null && v < a.lmin - 1e-9) return '';
          if (a.lmax != null && v > a.lmax + 1e-9) return '';
          return (a.fmt || fint)(v);
        },
      },
    };
    if (a.interval != null) o.interval = a.interval;
    else o.splitNumber = a.split || 5;
    return o;
  }

  function panel(p: any) {
    const gi = grids.length;
    grids.push({ left: p.left, top: p.top, width: p.width, height: p.height, containLabel: false, outerBoundsMode: 'none', show: false });
    const xi = xAxes.length;
    const yi = yAxes.length;
    const mx = p.xMargin == null ? (p.margin == null ? 4 : p.margin) : p.xMargin;
    const my = p.margin == null ? 4 : p.margin;
    xAxes.push(mkAxis(gi, p.x, 'bottom', p.x.labels !== false, p, mx));
    xAxes.push(mkAxis(gi, p.x, 'top', false, p, mx));
    yAxes.push(mkAxis(gi, p.y, 'left', p.y.labels !== false && !p.yRight, p, my));
    yAxes.push(mkAxis(gi, p.y, 'right', p.y.labels !== false && !!p.yRight, p, my));
    return { xi, yi, z: p.z || 2 };
  }

  function L(P: any, xs: number[], ys: number[], s: any) {
    series.push({
      type: 'line', xAxisIndex: P.xi, yAxisIndex: P.yi, z: P.z + 1, silent: true, animation: false,
      data: ys.map((y, i) => [xs[i], y]),
      symbol: s.sym || 'none', symbolSize: s.ss || 4, showSymbol: !!s.sym, smooth: s.smooth || false,
      lineStyle: { color: s.c, width: s.w || 1.2, type: s.dash || 'solid' },
      itemStyle: { color: s.open ? '#fff' : s.c, borderColor: s.c, borderWidth: s.bw || 1 },
      emphasis: { disabled: true },
    });
  }
  function S(P: any, xs: number[], ys: number[], s: any) {
    series.push({
      type: 'scatter', xAxisIndex: P.xi, yAxisIndex: P.yi, z: P.z + 2, silent: true, animation: false,
      data: ys.map((y, i) => [xs[i], y]),
      symbol: s.sym, symbolSize: s.ss,
      itemStyle: { color: s.open ? '#fff' : s.c, borderColor: s.bc || s.c, borderWidth: s.bw == null ? 1 : s.bw, opacity: 1 },
      emphasis: { disabled: true },
    });
  }
  // measured points (y >= 0) filled, reflected points (y < 0) open
  function SS(P: any, xs: number[], ys: number[], s: any) {
    const lx: number[] = [], ly: number[] = [], rx: number[] = [], ry: number[] = [];
    xs.forEach((x, i) => { if (x < 0) { lx.push(x); ly.push(ys[i]); } else { rx.push(x); ry.push(ys[i]); } });
    S(P, lx, ly, { ...s, open: true });
    S(P, rx, ry, { ...s, open: false });
  }

  function T(x: number, y: number, text: string, fs: number, o: any = {}) {
    const ff = o.ff || SERIF;
    const fw = o.fw || 'bold';
    const fill = o.color || '#000';
    const small = Math.round(fs * 0.64 * 10) / 10;
    G.push({
      type: 'text', x, y, rotation: o.rot || 0, z: 30, silent: true,
      style: {
        text, fontSize: fs, fontFamily: ff, fontWeight: fw, fill, align: o.align || 'left', verticalAlign: 'middle',
        rich: {
          sup: { fontSize: small, fontFamily: ff, fontWeight: fw, fill, color: fill, verticalAlign: 'top' },
          sub: { fontSize: small, fontFamily: ff, fontWeight: fw, fill, color: fill, verticalAlign: 'bottom' },
        },
      },
    });
  }
  function B(x: number, y: number, w: number, h: number, sh = 0, lw = 1.2, stroke = '#000') {
    if (sh) G.push({ type: 'rect', z: 28, silent: true, shape: { x: x + sh, y: y + sh, width: w, height: h }, style: { fill: '#000' } });
    G.push({ type: 'rect', z: 29, silent: true, shape: { x, y, width: w, height: h }, style: { fill: '#fff', stroke, lineWidth: lw } });
  }
  function Ln(x1: number, y1: number, x2: number, y2: number, c: string, w: number, dash?: number[]) {
    G.push({ type: 'line', z: 30, silent: true, shape: { x1, y1, x2, y2 }, style: { stroke: c, lineWidth: w, lineDash: dash || null } });
  }
  function M(cx: number, cy: number, shape: string, c: string, size: number, open = false) {
    const st = { fill: open ? '#fff' : c, stroke: c, lineWidth: 1 };
    const r = size / 2;
    if (shape === 'circle') G.push({ type: 'circle', z: 31, silent: true, shape: { cx, cy, r }, style: st });
    else if (shape === 'rect') G.push({ type: 'rect', z: 31, silent: true, shape: { x: cx - r, y: cy - r, width: size, height: size }, style: st });
    else if (shape === 'triangle') G.push({ type: 'polygon', z: 31, silent: true, shape: { points: [[cx, cy - r], [cx + r, cy + r], [cx - r, cy + r]] }, style: st });
    else if (shape === 'diamond') G.push({ type: 'polygon', z: 31, silent: true, shape: { points: [[cx, cy - r], [cx + r * 0.75, cy], [cx, cy + r], [cx - r * 0.75, cy]] }, style: st });
    else {
      const pts: number[][] = [];
      for (let k = 0; k < 10; k++) {
        const a = -Math.PI / 2 + (k * Math.PI) / 5;
        const rr = k % 2 === 0 ? r : r * 0.42;
        pts.push([cx + rr * Math.cos(a), cy + rr * Math.sin(a)]);
      }
      G.push({ type: 'polygon', z: 31, silent: true, shape: { points: pts }, style: st });
    }
  }
  const ROT = Math.PI / 2;

  /* ---------- title ---------- */
  T(883, 27, 'PHQMD: J. Aichelin et al.,  PRC 101 (2020) 044905', 32, { ff: SANS, align: 'center' });

  /* ---------- Au+Au 1.5 AGeV ---------- */
  const PA = panel({
    left: 68, top: 23, width: 331.5, height: 214,
    x: { min: -2, max: 2, interval: 0.5, step: 0.5, fmt: fx1 },
    y: { min: 0, max: 130, interval: 20, step: 20, lmax: 120 },
    fs: 14, ff: SERIF, fw: 'normal', lc: '#222', lw: 1.3, tick: 4, color: '#444', margin: 8, xMargin: 7,
  });
  L(PA, phqmdY0, phqmdZ1SACA, { c: '#ff2020', w: 2 });
  L(PA, phqmdY0, phqmdZ1MST, { c: '#ff2020', w: 2, dash: [2, 1.5] });
  L(PA, phqmdY0, phqmdPSACA, { c: '#2020ff', w: 2 });
  L(PA, phqmdY0, phqmdPMST, { c: '#2020ff', w: 1.5, dash: [1.5, 1.5] });
  S(PA, fopiZ1Y0, fopiZ1, { c: '#000', sym: 'rect', ss: 9 });
  S(PA, fopiPY0, fopiP, { c: '#000', sym: 'circle', ss: 9 });
  T(235, 12, 'Au + Au,  1.5AGeV, central', 18, { fw: 'normal', align: 'center', color: '#222' });
  T(22, 142, 'dN/dy{sub|0}', 21, { fw: 'normal', align: 'center', rot: ROT, color: '#222' });
  T(245, 269, 'y{sub|0}', 18, { fw: 'normal', align: 'center', color: '#222' });
  B(68, 23, 80, 32, 0, 1.5, '#444');
  M(78, 33.5, 'rect', '#000', 9); T(88, 33.5, 'FOPI Z=1', 12.5);
  M(78, 45.5, 'circle', '#000', 9); T(88, 45.5, 'FOPI p', 12.5);
  B(310, 23, 97, 92, 0, 1.5, '#444');
  T(362, 33, 'PHQMD:', 12, { align: 'center' });
  T(364, 44.5, 'hard EOS', 12, { align: 'center' });
  T(365, 57, 'b ≤ 2.25 fm', 12, { align: 'center' });
  Ln(315, 69, 333, 69, '#ff2020', 2); T(338, 69, 'Z=1 SACA', 12);
  Ln(315, 81, 333, 81, '#ff2020', 2, [2, 1.5]); T(338, 81, 'Z=1 MST', 12);
  Ln(315, 93, 333, 93, '#2020ff', 2); T(338, 93, 'p SACA', 12);
  Ln(315, 106, 333, 106, '#2020ff', 1.5, [1.5, 1.5]); T(338, 106, 'p MST', 12);

  /* ---------- STAR 11 GeV (overlay image region) ---------- */
  G.push({ type: 'rect', z: 8, silent: true, shape: { x: 361, y: 115, width: 621, height: 411 }, style: { fill: '#fff' } });
  const starCols = [423.5, 607, 790.5];
  const starRows = [140, 321.5];
  const starSty = [
    { c: '#000000', sym: 'circle', leg: 'circle', open: true },
    { c: '#ff0000', sym: 'rect', leg: 'rect', open: true },
    { c: '#00cc00', sym: 'triangle', leg: 'triangle', open: false },
    { c: '#0000ff', sym: 'diamond', leg: 'diamond', open: false },
    { c: '#a0786a', sym: 'diamond', leg: 'diamond', open: false },
    { c: '#ff00ff', sym: 'rect', leg: 'rect', open: false },
    { c: '#7e9be0', sym: STAR_PATH, leg: 'star', open: false },
  ];
  const starSets = [
    [starPiPlusLog10, starPt, 0, 0], [starKPlusLog10, starPt, 1, 0], [starProtonLog10, starPtProton, 2, 0],
    [starPiMinusLog10, starPt, 0, 1], [starKMinusLog10, starPt, 1, 1], [starAntiProtonLog10, starPtProton, 2, 1],
  ];
  starSets.forEach((set: any) => {
    const [vals, pts, col, row] = set;
    const P = panel({
      left: starCols[col], top: starRows[row], width: 183.5, height: 181.5,
      x: { min: 0, max: 2.1, interval: 0.2, step: 0.2, lmin: 0.2, fmt: fRoot, minor: 4, labels: row === 1 },
      y: { min: -9.47, max: 3.36, split: 13, step: 1, fmt: fLogRoot, labels: col === 0 },
      fs: 6.5, ff: SANS, fw: 'normal', lc: '#222', lw: 1, tick: 4, z: 11, margin: 3, color: '#222',
    });
    vals.forEach((arr: number[], k: number) => {
      const st = starSty[k];
      L(P, pts, arr, { c: st.c, w: 1, sym: st.sym, ss: k === 6 ? 5.5 : 4, open: st.open });
    });
  });
  T(382, 126, 'Au+Au @ √s{sub|NN} = 11 GeV', 9.5, { ff: SANS });
  M(517.7, 125.5, 'star', '#000', 10); T(529, 125.5, 'STAR', 8.5, { ff: SANS, fw: 'normal', color: '#333' });
  Ln(565.5, 125.5, 578, 125.5, RED, 1); M(571.7, 125.5, 'circle', RED, 7, true);
  T(583, 125.5, 'PHQMD', 8.5, { ff: SANS, fw: 'normal', color: '#333' });
  const legPos = [[652.7, 123.5, 668], [719.3, 123.5, 731], [786, 123.5, 793.7], [851.7, 123.5, 858.4], [919, 123.5, 925], [652.7, 133.5, 660], [718.5, 133.5, 727]];
  legPos.forEach((lp, k) => {
    M(lp[0], lp[1], starSty[k].leg, starSty[k].c, 5, starSty[k].open);
    T(lp[2], lp[1], starLegend[k], 7.5, { ff: SANS, fw: 'normal', color: '#333' });
  });
  T(446, 295, 'π{sup|+}', 13, { ff: SANS });
  T(628, 295, 'K{sup|+}', 13, { ff: SANS });
  T(811, 295, 'p', 13, { ff: SANS });
  T(446, 476, 'π{sup|-}', 13, { ff: SANS });
  T(628, 476, 'K{sup|-}', 13, { ff: SANS });
  T(811, 477, 'p', 13, { ff: SANS });
  Ln(811, 467.5, 819, 467.5, '#000', 1.4);
  T(384, 322, '1/(2π p{sub|T}) d{sup|2}N/(dp{sub|T}dy) (GeV/c){sup|-2}', 8.5, { ff: SANS, align: 'center', rot: ROT });
  [605, 788.5, 972].forEach((xr) => T(xr, 516, 'p{sub|T} GeV/c', 6.5, { ff: SANS, fw: 'normal', align: 'right' }));

  /* ---------- AGS dN/dy ---------- */
  const agsTops = [68.4, 187.8, 307.7, 426.7];
  const agsH = [119.4, 119.9, 119, 120];
  const agsMax = [89.4, 119.1, 118.6, 137.4];
  const agsP: any[] = [];
  for (let i = 0; i < 4; i++) {
    const P = panel({
      left: 1083.3, top: agsTops[i], width: 332.7, height: agsH[i],
      x: { min: -2.2, max: 2.2, split: 9, step: 1, lmin: -2, lmax: 2, labels: i === 3 },
      y: { min: 0, max: agsMax[i], interval: 10, step: 20 },
      fs: 13, ff: SERIF, fw: 'bold', lw: 1.6, tick: 5, margin: 7,
    });
    agsP.push(P);
    L(P, agsY, agsHard[i], { c: RED, w: 3.5, sym: 'rect', ss: 5 });
    L(P, agsY, agsSoft[i], { c: GREEN, w: 1.5, sym: 'triangle', ss: 4.5, open: true });
    L(P, agsY, agsPhsd[i], { c: BLUE, w: 3, sym: 'circle', ss: 5, open: true });
  }
  S(agsP[0], ags107DataY, ags107Data, { c: '#000', sym: 'circle', ss: 8 });
  S(agsP[1], ags8FilledY, ags8Filled, { c: '#000', sym: 'circle', ss: 8 });
  S(agsP[1], ags8OpenY, ags8Open, { c: '#222', sym: 'circle', ss: 8, open: true });
  S(agsP[2], ags6FilledY, ags6Filled, { c: '#000', sym: 'circle', ss: 8 });
  S(agsP[2], ags6OpenY, ags6Open, { c: '#222', sym: 'circle', ss: 8, open: true });
  T(1261.7, 83.7, 'Au+Au, 10.7 AGeV,  5% central', 15.8, { align: 'center' });
  T(1260, 203.6, 'Au+Au, 8 AGeV,  5% central', 15.8, { align: 'center' });
  T(1256.7, 322.6, 'Au+Au, 6 AGeV,  5% central', 15.8, { align: 'center' });
  T(1255, 439.2, 'Au+Au, 4 AGeV,  5% central', 15.8, { align: 'center' });
  Ln(1188, 140.1, 1215, 140.1, RED, 3.5); M(1201.5, 140.1, 'rect', RED, 5); T(1218, 140.1, 'PHQMD: hard EoS', 12);
  Ln(1188, 154.6, 1215, 154.6, GREEN, 1.5); M(1201.5, 154.6, 'triangle', GREEN, 5, true); T(1218, 154.6, 'PHQMD: soft EoS', 12);
  Ln(1188, 169.2, 1215, 169.2, BLUE, 3); M(1201.5, 169.2, 'circle', BLUE, 5, true); T(1218, 169.2, 'PHSD', 12);
  T(1046, 315, 'dN/dy', 15, { align: 'center', rot: ROT });
  T(1247, 577, 'y', 17, { align: 'center' });

  /* ---------- AGS mT ---------- */
  const mtTops = [6.1, 126.9, 246.4, 365.1];
  const mtH = [120.8, 119.5, 118.7, 119.4];
  const mtP: any[] = [];
  for (let i = 0; i < 4; i++) {
    const P = panel({
      left: 1515, top: mtTops[i], width: 335, height: mtH[i],
      x: { min: 0, max: 1.1, interval: 0.1, step: 0.2, fmt: fx1, labels: i === 3 },
      y: { min: -0.3, max: 2.92, split: 3, step: 1, fmt: fLogOrigin },
      fs: 13, ff: SERIF, fw: 'bold', lw: 1.6, tick: 5, margin: 8,
    });
    mtP.push(P);
    L(P, mtX, mtHardLog10[i], { c: RED, w: 1.8 });
    L(P, mtX, mtSoftLog10[i], { c: GREEN, w: 1.6 });
    L(P, mtX, mtPhsdLog10[i], { c: BLUE, w: 1.8 });
  }
  S(mtP[1], e895X8, e895Log10_8, { c: '#000', sym: 'circle', ss: 7 });
  S(mtP[2], e895X6, e895Log10_6, { c: '#000', sym: 'circle', ss: 7 });
  S(mtP[3], e895X4, e895Log10_4, { c: '#000', sym: 'circle', ss: 7 });
  T(1838, 27.3, 'Au+Au, 11 AGeV, 5%, midrapidity', 14.5, { align: 'right' });
  T(1835, 147.4, 'Au+Au, 8 AGeV, 5%, midrapidity', 14.5, { align: 'right' });
  T(1837, 263.4, 'Au+Au, 6 AGeV, 5%, midrapidity', 14.5, { align: 'right' });
  T(1837, 383.9, 'Au+Au, 4 AGeV, 5%, midrapidity', 14.5, { align: 'right' });
  Ln(1530, 80.9, 1557, 80.9, RED, 2); T(1560, 80.9, 'PHQMD: hard EoS', 12);
  Ln(1530, 94.9, 1557, 94.9, GREEN, 1.6); T(1560, 94.9, 'PHQMD: soft EoS', 12);
  Ln(1530, 109.9, 1557, 109.9, BLUE, 2); T(1560, 109.9, 'PHSD', 12);
  M(1761, 174, 'circle', '#000', 8); T(1777, 174, 'E895,E917', 13);
  T(1483, 245, 'm{sub|T}{sup|-1} dN/(dm{sub|T}dy) [(GeV){sup|-2}]', 14, { align: 'center', rot: ROT });
  T(1677, 517, 'm{sub|T}-m{sub|0} [GeV]', 17, { align: 'center' });

  /* ---------- SPS dN/dy ---------- */
  const spsTops = [466.3, 593.5, 720.7, 848.2];
  const spsH = [127.2, 127.2, 127.5, 126.8];
  const spsP: any[] = [];
  for (let i = 0; i < 4; i++) {
    const P = panel({
      left: 79.3, top: spsTops[i], width: 333.4, height: spsH[i],
      x: { min: -4, max: 4, interval: 0.5, step: 1, labels: i === 3 },
      y: { min: 0, max: 70, interval: 10, step: 20, lmax: 60 },
      fs: 13, ff: SERIF, fw: 'bold', lw: 2, tick: 5, margin: 9,
    });
    spsP.push(P);
    L(P, spsY, spsPhqmd[i], { c: RED, w: 1.6, sym: 'circle', ss: 4.5, open: true });
  }
  S(spsP[0], na49P20Y, na49P20, { c: '#000', sym: 'circle', ss: 9 });
  S(spsP[1], na49P40OpenY, na49P40Open, { c: '#000', sym: 'circle', ss: 8, open: true });
  S(spsP[1], na49P40FilledY, na49P40Filled, { c: '#000', sym: 'circle', ss: 8 });
  S(spsP[2], na49P80Y, na49P80, { c: '#000', sym: 'circle', ss: 9 });
  S(spsP[3], na49P160OpenY, na49P160Open, { c: '#000', sym: 'circle', ss: 8, open: true });
  S(spsP[3], na49P160FilledY, na49P160Filled, { c: '#000', sym: 'circle', ss: 8 });
  B(212, 445.5, 76, 20.5, 4, 1.2);
  T(250, 456, 'Pb+Pb', 17, { align: 'center' });
  T(247.7, 485.2, '20 A GeV,  7% central', 18.5, { align: 'center' });
  T(246, 615, '40 A GeV,  7% central', 18.5, { align: 'center' });
  T(248.3, 742.1, '80 A GeV,  7% central', 18.5, { align: 'center' });
  T(243.3, 867.8, '160 A GeV,  5% central', 18.5, { align: 'center' });
  Ln(196.7, 562.3, 231.7, 562.3, RED, 1.6); M(214, 562.3, 'circle', RED, 4.5, true); T(236.7, 562.3, 'PHQMD', 14);
  T(33, 711, 'dN/dy', 17, { align: 'center', rot: ROT });
  T(246, 1016, 'y', 19, { align: 'center' });

  /* ---------- SPS proton mT ---------- */
  const smTops = [579.3, 682.6, 786.2, 889.1, 992.8];
  const smH = [103.3, 103.6, 102.9, 103.7, 102.9];
  const smY = [[-0.3, 2.47, 3], [-0.3, 2.46, 3], [-1.33, 2.46, 4], [-1.3, 2.45, 4], [-1.32, 2.41, 4]];
  for (let i = 0; i < 5; i++) {
    const P = panel({
      left: 491.7, top: smTops[i], width: 283.3, height: smH[i],
      x: { min: 0, max: 1.4, interval: 0.1, step: 0.2, fmt: fx1, labels: i === 4 },
      y: { min: smY[i][0], max: smY[i][1], split: smY[i][2], step: 1, fmt: fLogOrigin },
      fs: 12, ff: SERIF, fw: 'bold', lw: 1.5, tick: 4, margin: 6,
    });
    L(P, spsMtX, spsMtPhqmdLog10[i], { c: RED, w: 1.3 });
    S(P, i === 4 ? na49MtX158 : na49MtX, na49MtLog10[i], { c: '#000', sym: 'circle', ss: 8 });
  }
  B(533, 570.5, 130, 13.5, 4, 1);
  T(598, 577.3, 'Pb+Pb,  mid-rapidity', 12, { align: 'center' });
  const eb = [[673, 586.9, 95, '20 A GeV, 7%'], [675, 689.4, 95, '30 A GeV, 7%'], [677, 791.1, 93, '40 A GeV, 7%'], [673, 896.7, 95, '80 A GeV, 7%'], [671, 1000.3, 99, '158 A GeV, 5%']];
  eb.forEach((e: any) => { B(e[0], e[1], e[2], 14, 4, 1); T(e[0] + e[2] / 2, e[1] + 7, e[3], 12.5, { align: 'center' }); });
  B(514, 646, 30, 17.5, 4, 1); T(522, 654.7, 'p', 13);
  Ln(521.7, 862.8, 550, 862.8, RED, 1.5); T(553.3, 862.8, 'PHQMD', 12.5);
  T(447, 837, '1/m{sub|T} dN/dm{sub|T}dy [(GeV){sup|-2}]', 12, { align: 'center', rot: ROT });
  T(625, 1125, 'm{sub|T}-m{sub|0} [GeV]', 13, { align: 'center' });

  /* ---------- Pb+Pb grid ---------- */
  const gCols = [883.3, 989.3, 1095.3, 1202];
  const gTops = [612.3, 739.8, 867.2, 995.7];
  const gH = [127.5, 127.4, 128.5, 128.2];
  const gYax = [
    { min: 0, max: 250, interval: 50, step: 50, minor: 2 },
    { min: 0, max: 34.8, interval: 5, step: 10 },
    { min: 0, max: 20, interval: 2.5, step: 5, lmax: 15 },
    { min: 0, max: 21.9, interval: 2.5, step: 5 },
  ];
  const gCurves = [gridPiMinus, gridKPlus, gridKMinus, gridLambda];
  for (let r = 0; r < 4; r++) {
    for (let c = 0; c < 4; c++) {
      const P = panel({
        left: gCols[c], top: gTops[r], width: 106, height: gH[r],
        x: { min: -4, max: 4, interval: 1, step: 1, lmin: -3, lmax: 3, minor: 2, labels: r === 3 },
        y: { ...gYax[r], labels: c === 0 },
        fs: 12, ff: SERIF, fw: 'bold', lw: 1.4, tick: 4, margin: 2.5, xMargin: 1.5,
      });
      L(P, gridY, gCurves[r][c], { c: RED, w: 1.4, sym: 'circle', ss: 2.5 });
      if (r === 0) SS(P, na49PiMinusY[c], na49PiMinus[c], { c: '#000', sym: 'rect', ss: 4.5 });
      if (r === 1) SS(P, na49KPlusY[c], na49KPlus[c], { c: '#000', sym: 'triangle', ss: 5 });
      if (r === 2) SS(P, na49KMinusY[c], na49KMinus[c], { c: '#000', sym: 'circle', ss: 4.5 });
      if (r === 3) {
        S(P, na49LambdaOpenY[c], na49LambdaOpen[c], { c: '#000', sym: 'diamond', ss: 6, open: true });
        S(P, na49LambdaFilledY[c], na49LambdaFilled[c], { c: '#000', sym: 'diamond', ss: 6 });
      }
    }
  }
  B(1058, 593, 60, 18.2, 2, 1.2);
  T(1088, 602.3, 'Pb+Pb', 15, { align: 'center' });
  T(940, 626.1, '20 AGeV, 7%', 12.5, { align: 'center' });
  T(1045, 626.1, '40 AGeV, 7%', 12.5, { align: 'center' });
  T(1150, 626.1, '80 AGeV, 7%', 12.5, { align: 'center' });
  T(1256.7, 623.2, '158 AGeV, 5%', 12.5, { align: 'center' });
  B(888, 643.3, 28, 21.1, 3, 1); T(902, 653.9, 'π{sup|-}', 13, { align: 'center' });
  B(890, 758, 30, 20, 3, 1); T(905, 768, 'K{sup|+}', 13, { align: 'center' });
  B(893, 883.6, 29, 20, 3, 1); T(907.5, 893.6, 'K{sup|-}', 13, { align: 'center' });
  B(893, 1007.4, 47, 19, 3, 1); T(916.5, 1016.9, 'Λ+Σ{sup|0}', 13, { align: 'center' });
  B(1055, 758, 80, 13.4, 0, 1); Ln(1058, 764.7, 1082, 764.7, RED, 1.3); T(1085, 764.7, 'PHQMD', 11, { fw: 'normal' });
  T(1260.7, 1011.8, '10% central', 12.5, { align: 'center' });
  T(855, 862, 'dN/dy', 19, { align: 'center', rot: ROT });
  [936.7, 1042.7, 1148.3, 1255].forEach((x) => T(x, 1145.5, 'y', 16, { align: 'center' }));

  /* ---------- Au+Au 200 GeV ---------- */
  const hCols = [1440.7, 1648.3];
  const hTops = [599.9, 728.4, 855.3, 982.7];
  const hH = [128.5, 126.9, 127.4, 127.7];
  const hYax = [
    { min: 0, max: 360.7, interval: 50, step: 100 },
    { min: 0, max: 59.6, interval: 10, step: 20 },
    { min: 0, max: 39.1, interval: 5, step: 10 },
    { min: 0, max: 19.9, interval: 2.5, step: 5, lmax: 15 },
  ];
  const hP: any[][] = [[], [], [], []];
  for (let r = 0; r < 4; r++) {
    for (let c = 0; c < 2; c++) {
      hP[r][c] = panel({
        left: hCols[c], top: hTops[r], width: 201, height: hH[r],
        x: { min: -7, max: 7, interval: 1, step: 2, minor: 2, labels: r === 3 },
        y: { ...hYax[r] }, yRight: c === 1,
        fs: 13, ff: SANS, fw: 'bold', lc: '#333', lw: 1.4, tick: 4, color: '#333', margin: 3,
      });
    }
  }
  const redS = { c: RED, w: 2, smooth: 0.3 };
  L(hP[0][0], rhicY, rhicPiPlus, redS);
  L(hP[0][1], rhicY, rhicPiMinus, redS);
  L(hP[1][0], rhicY, rhicKPlus, redS);
  L(hP[1][1], rhicY, rhicKMinus, redS);
  L(hP[2][0], rhicProtonY, rhicProton, redS);
  L(hP[2][1], rhicY, rhicAntiProton, redS);
  L(hP[3][0], rhicLambdaY, rhicLambda, redS);
  L(hP[3][1], rhicY, rhicAntiLambda, redS);
  const bOpen = { c: '#666', sym: 'circle', ss: 6, open: true };
  const bFill = { c: '#000', sym: 'circle', ss: 6.5 };
  const phx = { c: '#008000', sym: 'triangle', ss: 8 };
  const stx = { c: '#ff00ff', sym: STAR_PATH, ss: 10 };
  S(hP[0][0], brahmsPiPlusReflY, brahmsPiPlusRefl, bOpen); S(hP[0][0], brahmsPiPlusY, brahmsPiPlus, bFill);
  S(hP[0][0], phenixY, phenixPiPlus, phx); S(hP[0][0], phenixY, starRhicPiPlus, stx);
  S(hP[0][1], brahmsPiMinusReflY, brahmsPiMinusRefl, bOpen); S(hP[0][1], brahmsPiMinusY, brahmsPiMinus, bFill);
  S(hP[0][1], phenixY, phenixPiMinus, phx); S(hP[0][1], phenixY, starRhicPiMinus, stx);
  S(hP[1][0], brahmsKPlusReflY, brahmsKPlusRefl, bOpen); S(hP[1][0], brahmsKPlusY, brahmsKPlus, bFill);
  S(hP[1][0], phenixY, phenixKPlus, phx); S(hP[1][0], phenixY, starRhicKPlus, stx);
  S(hP[1][1], brahmsKMinusReflY, brahmsKMinusRefl, bOpen); S(hP[1][1], brahmsKMinusY, brahmsKMinus, bFill);
  S(hP[1][1], phenixY, phenixKMinus, phx); S(hP[1][1], phenixY, starRhicKMinus, stx);
  S(hP[2][0], brahmsProtonY, brahmsProton, bFill);
  S(hP[2][1], brahmsAntiProtonY, brahmsAntiProton, bFill); S(hP[2][1], phenixY, phenixAntiProton, phx);
  S(hP[3][0], phenixY, starRhicLambda, stx);
  S(hP[3][1], phenixY, starRhicAntiLambda, stx);

  B(1520, 567.6, 270, 29.6, 3, 1.2);
  T(1655, 582.4, 'Au+Au,  s{sup|1/2}=200 GeV,  5% central', 15, { align: 'center' });
  B(1599, 599.9, 89, 47.5, 0, 1.2);
  M(1615, 608.3, 'circle', '#000', 6); T(1631.7, 608.3, 'BRAHMS', 11);
  M(1615, 623.9, 'triangle', '#008000', 7); T(1631.7, 623.9, 'PHENIX', 11);
  M(1615, 639.1, 'star', '#ff00ff', 8); T(1631.7, 639.1, 'STAR', 11);
  const pb = [
    [1452.7, 612.5, 34.6, 31.9, 'π{sup|+}'], [1799.3, 612.5, 35, 31.9, 'π{sup|-}'],
    [1603, 738.6, 30, 32.4, 'K{sup|+}'], [1805, 742.4, 31.7, 32.3, 'K{sup|-}'],
    [1603, 864, 30, 29.7, 'p'], [1805, 864, 31.7, 30.5, 'p'],
    [1572.7, 988.7, 64, 33.1, 'Λ+Σ{sup|0}'], [1776, 993.3, 64, 31.2, 'Λ+Σ{sup|0}'],
  ];
  pb.forEach((b: any) => { B(b[0], b[1], b[2], b[3], 6, 1.2); T(b[0] + b[2] / 2, b[1] + b[3] / 2 + 1, b[4], 18, { ff: SANS, align: 'center' }); });
  Ln(1816, 869.5, 1826, 869.5, '#000', 2);
  Ln(1788.5, 999.5, 1800.5, 999.5, '#000', 1.8);
  Ln(1811.5, 999.5, 1822, 999.5, '#000', 1.8);
  Ln(1665, 878.1, 1695, 878.1, RED, 2); T(1696.7, 878.1, 'PHQMD', 11);
  T(1402, 841, 'dN/dy', 20, { align: 'center', rot: ROT });
  T(1541.7, 1143.4, 'y', 20, { align: 'center' });
  T(1748.7, 1143.4, 'y', 20, { align: 'center' });

  return {
    animation: false,
    backgroundColor: '#ffffff',
    textStyle: { fontFamily: SERIF },
    grid: grids,
    xAxis: xAxes,
    yAxis: yAxes,
    series,
    graphic: { elements: G },
  };
}

export default function App() {
  const ref = useRef<HTMLDivElement>(null);
  useEffect(() => {
    document.body.style.margin = '0';
    document.body.style.overflow = 'hidden';
    const chart = echarts.init(ref.current as HTMLDivElement, undefined, { renderer: 'svg', width: 1879, height: 1156 });
    chart.setOption(buildOption() as any);
    return () => chart.dispose();
  }, []);
  return <div ref={ref} style={{ width: 1879, height: 1156, background: '#fff' }} />;
}
